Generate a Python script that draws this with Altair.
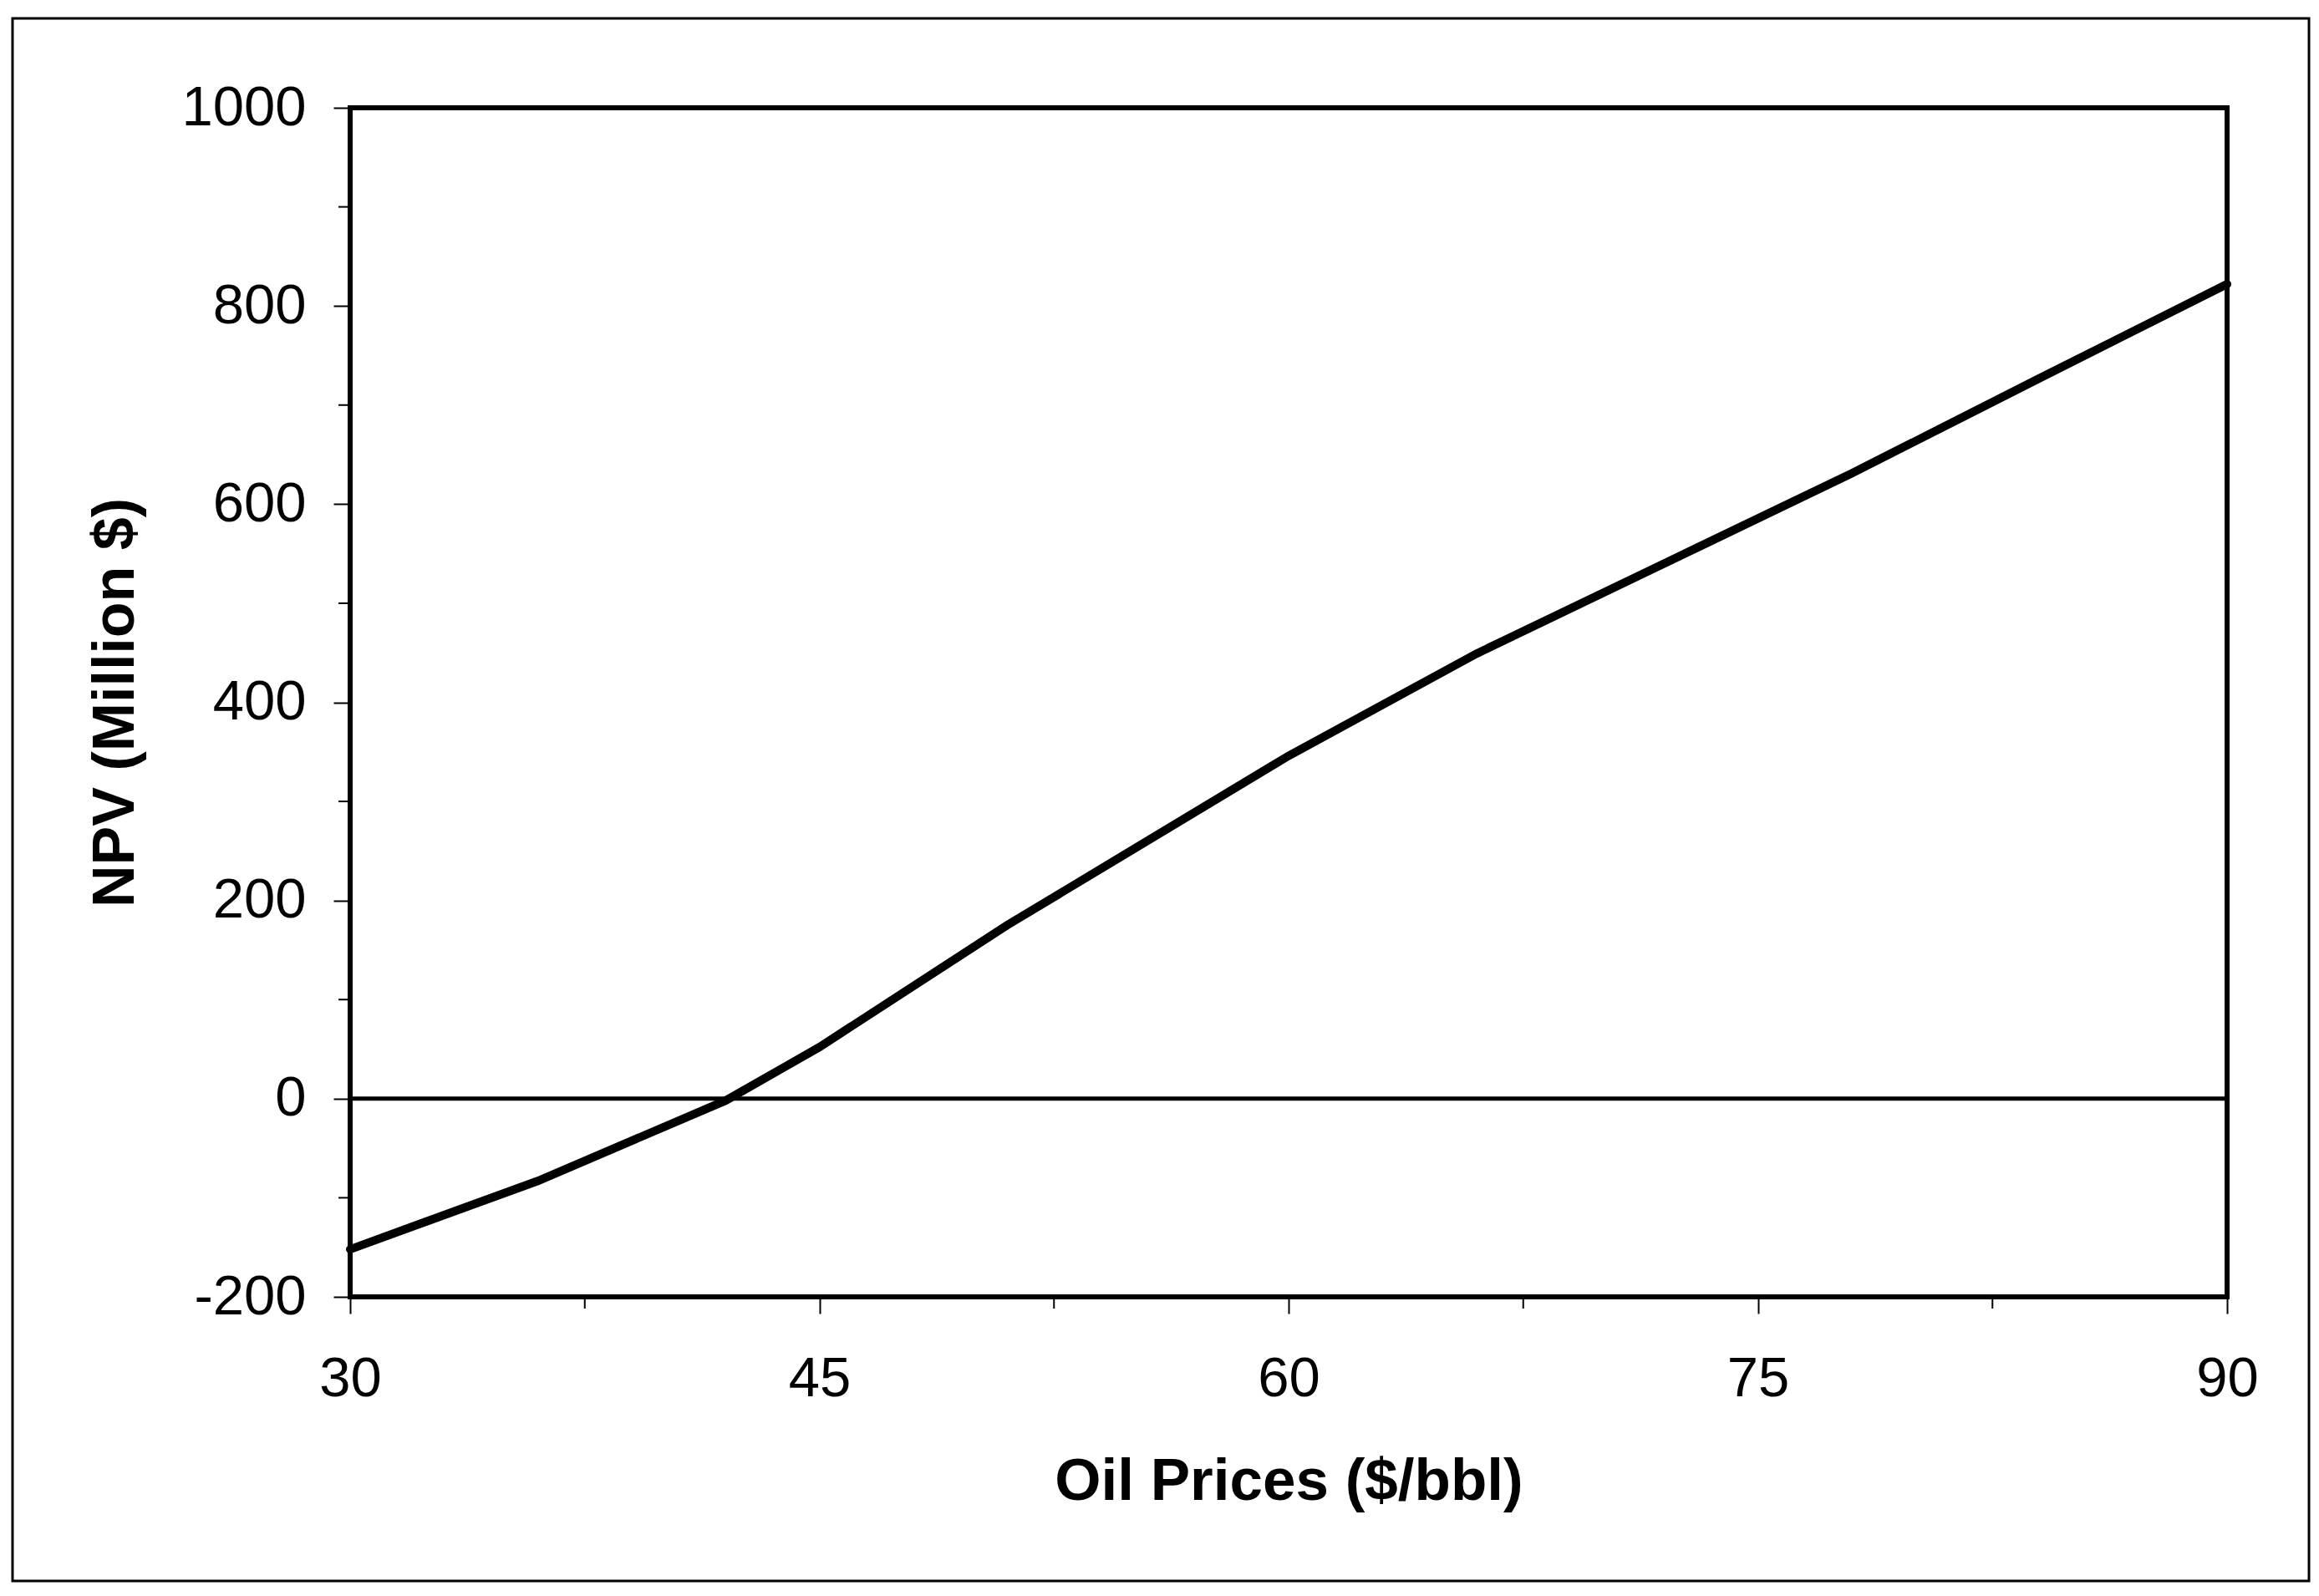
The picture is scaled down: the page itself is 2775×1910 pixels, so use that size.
import altair as alt
import pandas as pd

# Data
price = [30, 36, 42, 45, 51, 60, 66, 72, 78, 84, 90]
npv = [-152, -83, -2, 52, 175, 346, 449, 540, 631, 727, 822]

x_major = [30, 45, 60, 75, 90]
x_minor = [37.5, 52.5, 67.5, 82.5]
y_major = [-200, 0, 200, 400, 600, 800, 1000]
y_minor = [-100, 100, 300, 500, 700, 900]

W, H = 2246, 1423
FONT = "Liberation Sans"

df = pd.DataFrame({"price": price, "npv": npv})
xmin_df = pd.DataFrame({"v": x_minor})
ymin_df = pd.DataFrame({"v": y_minor})
zero_df = pd.DataFrame({"z": [0]})
frame_df = pd.DataFrame({"a": [0]})

xscale = alt.Scale(domain=[30, 90], nice=False, zero=False)
yscale = alt.Scale(domain=[-200, 1000], nice=False, zero=False)

x_axis = alt.Axis(
    values=x_major, title="Oil Prices ($/bbl)", domain=False, grid=False,
    tickSize=20, tickWidth=2, tickColor="black",
    labelExpr="'' + datum.value",
    labelFont=FONT, labelFontSize=67, labelColor="black", labelPadding=78,
    labelBaseline="middle", labelFlush=False,
    titleFont=FONT, titleFontSize=71, titleFontWeight="bold", titleColor="black",
    titleX=W / 2, titleY=221, titleBaseline="middle", titleAlign="center",
)
y_axis = alt.Axis(
    values=y_major, title="NPV (Million $)", domain=False, grid=False,
    tickSize=20, tickWidth=2, tickColor="black",
    labelExpr="'' + datum.value",
    labelFont=FONT, labelFontSize=67, labelColor="black", labelPadding=33,
    labelFlush=False,
    titleFont=FONT, titleFontSize=70, titleFontWeight="bold", titleColor="black",
    titleX=-281, titleY=H / 2, titleAngle=270, titleBaseline="middle", titleAlign="center",
)

line = alt.Chart(df).mark_line(color="black", strokeWidth=10, strokeCap="round", clip=False).encode(
    x=alt.X("price:Q", scale=xscale, axis=x_axis),
    y=alt.Y("npv:Q", scale=yscale, axis=y_axis),
)

zero = alt.Chart(zero_df).mark_rule(color="black", strokeWidth=5).encode(
    y=alt.Y("z:Q", scale=yscale),
    x=alt.value(0), x2=alt.value(W),
)

xminor = alt.Chart(xmin_df).mark_rule(color="black", strokeWidth=2).encode(
    x=alt.X("v:Q", scale=xscale),
    y=alt.value(H + 2), y2=alt.value(H + 14),
)
yminor = alt.Chart(ymin_df).mark_rule(color="black", strokeWidth=2).encode(
    y=alt.Y("v:Q", scale=yscale),
    x=alt.value(-14), x2=alt.value(-2),
)

frame = alt.Chart(frame_df).mark_rect(filled=False, stroke="black", strokeWidth=3).encode(
    x=alt.value(-404), x2=alt.value(2344), y=alt.value(-107), y2=alt.value(1763),
)

chart = alt.layer(frame, zero, xminor, yminor, line).properties(
    width=W, height=H,
    background="white",
    autosize=alt.AutoSizeParams(type="none"),
    padding={"left": 411, "top": 121, "right": 100, "bottom": 344},
).configure_view(
    stroke="black", strokeWidth=6, fill="white",
)

chart.save("out.html", embed_options={"renderer": "svg", "actions": False})
